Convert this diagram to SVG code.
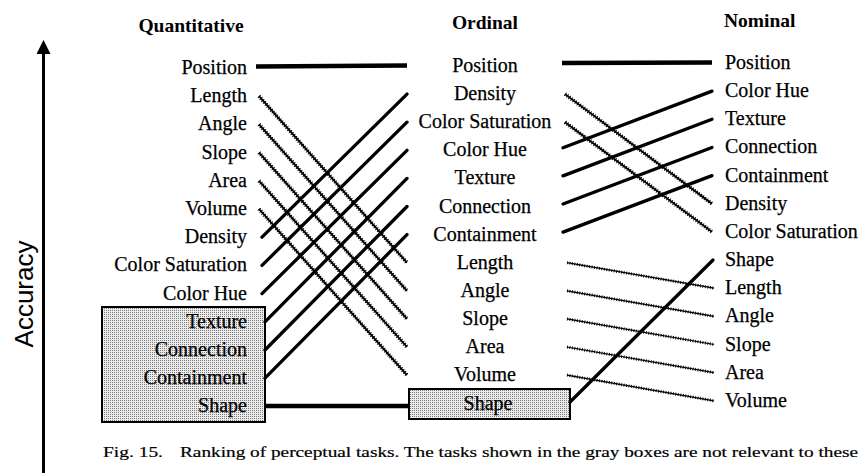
<svg xmlns="http://www.w3.org/2000/svg" width="863" height="473" viewBox="0 0 863 473">
<defs>
<style>
.hd{font-family:"Liberation Serif","Times New Roman",serif;font-weight:bold;font-size:19.5px;fill:#000}
.it{font-family:"Liberation Serif","Times New Roman",serif;font-size:20px;fill:#000;stroke:#000;stroke-width:0.25}
.l{text-anchor:end}
.m{text-anchor:middle}
.cap{font-family:"Liberation Serif","Times New Roman",serif;font-size:15.5px;fill:#000;stroke:#000;stroke-width:0.2}
.ax{font-family:"Liberation Sans",Arial,sans-serif;font-size:26px;fill:#000}
.solid{stroke:#000;stroke-width:3.3;stroke-linecap:round;fill:none}
.thick{stroke:#000;stroke-width:4.5;fill:none}
.hb{stroke:#000;stroke-width:1.8;fill:none}
.ht{stroke:#000;stroke-width:4;stroke-dasharray:1 1.6;fill:none}
.wb{stroke:#000;stroke-width:1.2;fill:none}
.wt{stroke:#000;stroke-width:3;stroke-dasharray:0.9 1.6;fill:none}
.box{fill:url(#stip);stroke:#000;stroke-width:2}
</style>
<pattern id="stip" width="2" height="2" patternUnits="userSpaceOnUse">
<rect width="2" height="2" fill="#ececec"/>
<rect width="1" height="1" fill="#7a7a7a"/>
</pattern>
<marker id="arr" viewBox="0 0 14 14" refX="0" refY="7" markerWidth="14" markerHeight="14" markerUnits="userSpaceOnUse" orient="auto">
<path d="M0,0 L14,7 L0,14 Z" fill="#000"/>
</marker>
</defs>

<g id="axis">
<line x1="43.5" y1="473" x2="43.5" y2="54" stroke="#000" stroke-width="3" marker-end="url(#arr)"/>
<text class="ax m" transform="translate(33,294) rotate(-90)">Accuracy</text>
</g>

<g id="headers">
<text class="hd m" x="191" y="32">Quantitative</text>
<text class="hd m" x="485" y="29">Ordinal</text>
<text class="hd" x="724" y="27">Nominal</text>
</g>

<g id="quantitative">
<rect id="q-graybox" class="box" x="102" y="307" width="163" height="115"/>
<text class="it l" x="247" y="74">Position</text>
<text class="it l" x="247" y="102.2">Length</text>
<text class="it l" x="247" y="130.4">Angle</text>
<text class="it l" x="247" y="158.6">Slope</text>
<text class="it l" x="247" y="186.8">Area</text>
<text class="it l" x="247" y="215">Volume</text>
<text class="it l" x="247" y="243.2">Density</text>
<text class="it l" x="247" y="271.4">Color Saturation</text>
<text class="it l" x="247" y="299.6">Color Hue</text>
<text class="it l" x="247" y="327.8">Texture</text>
<text class="it l" x="247" y="356">Connection</text>
<text class="it l" x="247" y="384.2">Containment</text>
<text class="it l" x="247" y="412.4">Shape</text>
</g>

<g id="ordinal">
<rect id="o-graybox" class="box" x="409" y="389" width="161" height="30"/>
<text class="it m" x="485" y="72">Position</text>
<text class="it m" x="485" y="100.1">Density</text>
<text class="it m" x="485" y="128.2">Color Saturation</text>
<text class="it m" x="485" y="156.3">Color Hue</text>
<text class="it m" x="485" y="184.4">Texture</text>
<text class="it m" x="485" y="212.5">Connection</text>
<text class="it m" x="485" y="240.6">Containment</text>
<text class="it m" x="485" y="268.7">Length</text>
<text class="it m" x="485" y="296.8">Angle</text>
<text class="it m" x="485" y="324.9">Slope</text>
<text class="it m" x="485" y="353">Area</text>
<text class="it m" x="485" y="381.1">Volume</text>
<text class="it m" x="488" y="409.5">Shape</text>
</g>

<g id="nominal">
<text class="it" x="725" y="69">Position</text>
<text class="it" x="725" y="97.15">Color Hue</text>
<text class="it" x="725" y="125.3">Texture</text>
<text class="it" x="725" y="153.45">Connection</text>
<text class="it" x="725" y="181.6">Containment</text>
<text class="it" x="725" y="209.75">Density</text>
<text class="it" x="725" y="237.9">Color Saturation</text>
<text class="it" x="725" y="266.05">Shape</text>
<text class="it" x="725" y="294.2">Length</text>
<text class="it" x="725" y="322.35">Angle</text>
<text class="it" x="725" y="350.5">Slope</text>
<text class="it" x="725" y="378.65">Area</text>
<text class="it" x="725" y="406.8">Volume</text>
</g>

<g id="connectors">
<!-- position -->
<line class="thick" x1="256" y1="66.5" x2="407" y2="65.5"/>
<line class="thick" x1="562" y1="63" x2="712" y2="62.5"/>
<!-- shape -->
<line class="thick" x1="265" y1="406" x2="409" y2="406"/>
<line class="solid" x1="570" y1="402" x2="713" y2="260"/>
<!-- quantitative to ordinal, hatched -->
<g id="hatched-qo">
<path class="hb" d="M259,96.2L407,262.7M259,124.4L407,290.8M259,152.6L407,318.9M259,180.8L407,347M259,209L407,375.1"/>
<path class="ht" d="M259,96.2L407,262.7M259,124.4L407,290.8M259,152.6L407,318.9M259,180.8L407,347M259,209L407,375.1"/>
</g>
<!-- quantitative to ordinal, solid -->
<path class="solid" d="M262,237.2L407,94.1M262,265.4L407,122.2M262,293.6L407,150.3M265,321.8L407,178.4M265,350L407,206.5M265,378.2L407,234.6"/>
<!-- ordinal to nominal, hatched -->
<g id="hatched-on">
<path class="hb" d="M565,94.1L712,203.75M565,122.2L712,231.9"/>
<path class="ht" d="M565,94.1L712,203.75M565,122.2L712,231.9"/>
</g>
<!-- ordinal to nominal, solid -->
<path class="solid" d="M563,147.8L712,91.15M563,175.9L712,119.3M563,204L712,147.45M563,232.1L712,175.6"/>
<!-- ordinal to nominal, wavy -->
<g id="wavy-on">
<path class="wb" d="M567,262.7L714,288.2M567,290.8L714,316.35M567,318.9L714,344.5M567,347L714,372.65M567,375.1L714,400.8"/>
<path class="wt" d="M567,262.7L714,288.2M567,290.8L714,316.35M567,318.9L714,344.5M567,347L714,372.65M567,375.1L714,400.8"/>
</g>
</g>

<g id="caption">
<text class="cap" x="103" y="457" textLength="60" lengthAdjust="spacingAndGlyphs">Fig. 15.</text>
<text class="cap" x="180" y="457" textLength="678" lengthAdjust="spacingAndGlyphs">Ranking of perceptual tasks. The tasks shown in the gray boxes are not relevant to these</text>
</g>
</svg>
